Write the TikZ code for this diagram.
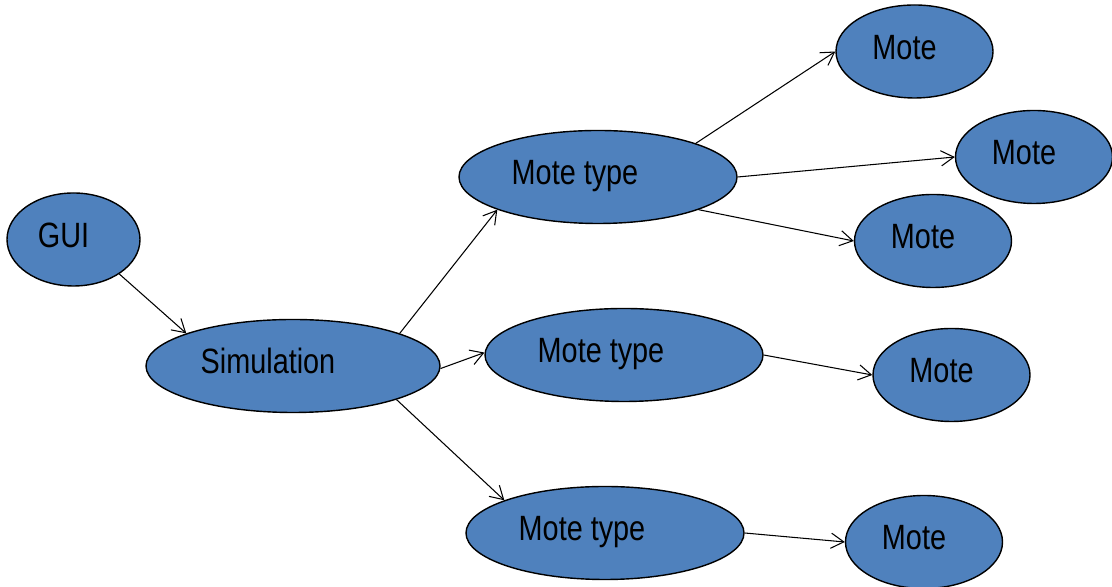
\documentclass[tikz,border=0pt]{standalone}
\usepackage{fontspec}
\setmainfont[FakeStretch=0.82]{Liberation Sans}
\usetikzlibrary{arrows.meta,shapes.geometric}
\definecolor{moteblue}{HTML}{4F81BD}
\tikzset{el/.append style={ellipse,draw,fill=moteblue,line width=1pt,inner sep=0pt,
  minimum height=2.325cm,text height=0.7cm,text depth=0.3cm,font=\fontsize{25}{30}\selectfont}}
\tikzset{pad/.style={execute at end node={\hspace*{#1}}}}
\tikzset{ar/.append style={line width=0.75pt,-{Straight Barb[length=0.32cm,width=0.38cm,line width=0.75pt]}}}

\begin{document}
\begin{tikzpicture}
                \useasboundingbox (0,0) rectangle (27.8,14.675);
                % \SetUpVertex
                \node[el,pad=0.5cm,minimum width=3.325cm] (gui) at (1.8375,8.6875) {GUI};
                \node[el,pad=1.25cm,minimum width=7.35cm] (sim) at (7.325,5.525) {Simulation};
                \node[el,pad=1.15cm,minimum width=6.95cm] (t1) at (14.95,10.25) {Mote type};
                \node[el,pad=1.15cm,minimum width=6.95cm] (t2) at (15.6,5.8) {Mote type};
                \node[el,pad=1.15cm,minimum width=6.95cm] (t3) at (15.125,1.35) {Mote type};
                \node[el,pad=0.5cm,minimum width=3.925cm] (m1) at (22.8625,13.3875) {Mote};
                \node[el,pad=0.5cm,minimum width=3.925cm] (m2) at (25.85,10.75) {Mote};
                \node[el,pad=0.5cm,minimum width=3.925cm] (m3) at (23.325,8.65) {Mote};
                \node[el,pad=0.5cm,minimum width=3.925cm] (m4) at (23.7875,5.3) {Mote};
                \node[el,pad=0.5cm,minimum width=3.925cm] (m5) at (23.1,1.125) {Mote};
                \path (gui.-37) edge[ar] (sim.163);
                \path (sim.17) edge[ar] (t1.-162);
                \path (sim.-1) edge[ar] (t2.179);
                \path (sim.-18) edge[ar] (t3.162);
                \path (t1.19) edge[ar] (m1.180) (t1.0) edge[ar] (m2.180) (t1.-18) edge[ar] (m3.180);
                \path (t2.0) edge[ar] (m4.180);
                \path (t3.0) edge[ar] (m5.180);
            \end{tikzpicture}
\end{document}
